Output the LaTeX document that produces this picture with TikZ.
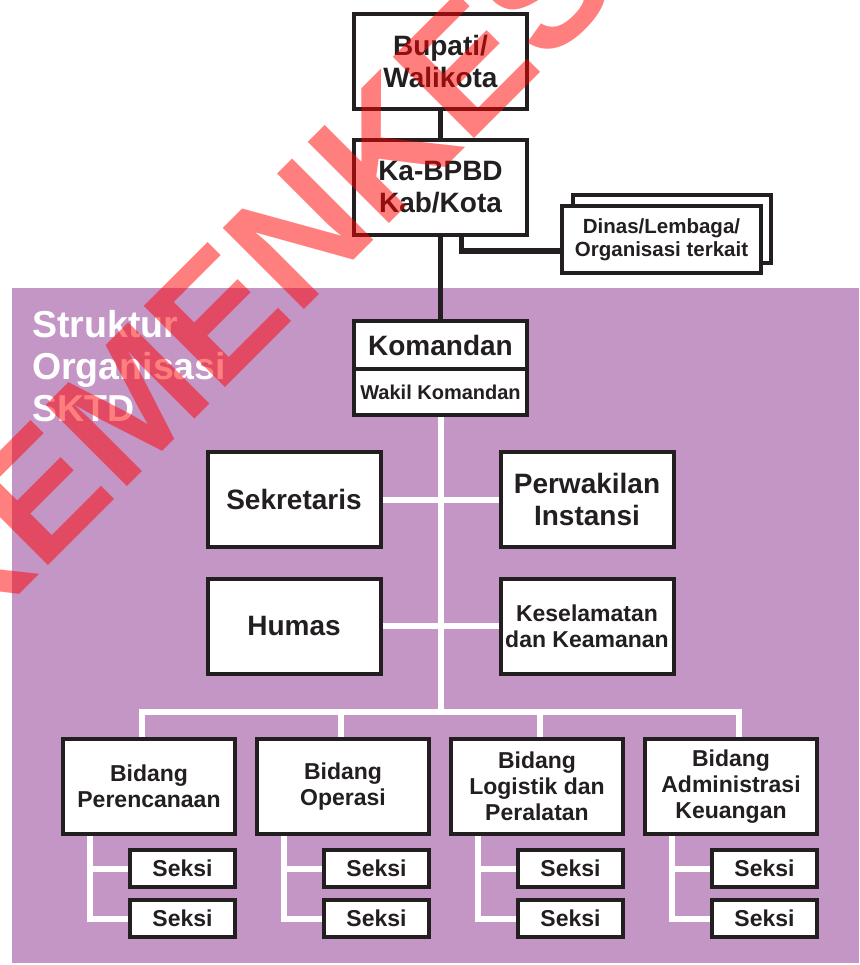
\documentclass[tikz,border=0pt]{standalone}
\usepackage{fontspec}
\setmainfont{Liberation Sans}
\usetikzlibrary{positioning}
\definecolor{ink}{HTML}{231F20}
\definecolor{sktd}{HTML}{C396C6}
\tikzstyle{box} = [draw=ink, line width=4pt, fill=white, text=ink, align=center, inner sep=0pt, font=\bfseries\fontsize{28}{32}\selectfont, minimum width=173pt, minimum height=95pt]
\tikzstyle{bidang} = [box, minimum width=172pt, font=\bfseries\fontsize{23}{26}\selectfont]
\tikzstyle{seksi} = [bidang, minimum width=105pt, minimum height=37pt]
\tikzstyle{blackline} = [draw=ink, line width=5.5pt]
\tikzstyle{whiteline} = [draw=white, line width=6pt]

\begin{document}
\begin{tikzpicture}[x=1pt, y=-1pt, node distance=125pt]

\clip (0,0) rectangle (859,965);

% Background

\fill[sktd] (12,288) rectangle (859,963);

\node[anchor=north west, inner sep=0pt, align=left, text=white, font=\bfseries\fontsize{37.5}{42}\selectfont] (judul) at (32,310) {Struktur\\Organisasi\\SKTD};

% Top

\node[box] (bupati) at (440.5,61.5) {Bupati/\\Walikota};

\node[box] (kabpbd) [below of=bupati, yshift=-1pt] {Ka-BPBD\\Kab/Kota};

\node[box, minimum width=198pt, minimum height=68pt] (dinasback) at (672,229) {};

\node[box, minimum width=199pt, minimum height=67pt, font=\bfseries\fontsize{20.5}{22.5}\selectfont] (dinas) at (661.5,239.5) {Dinas/Lembaga/\\Organisasi terkait};

\draw[blackline] (bupati) -- (kabpbd);
\draw[blackline] ([xshift=21pt]kabpbd.south) |- ([yshift=-11.5pt]dinas.west);

% Komandan

\node[box, minimum height=48pt] (komandan) [below of=kabpbd, yshift=-32.5pt] {Komandan};

\node[box, minimum height=46pt, font=\bfseries\fontsize{20}{22}\selectfont] (wakil) [below=-4pt of komandan] {Wakil Komandan};

\draw[blackline] (kabpbd) -- (komandan);

% Staff

\node[box] (sekretaris) [below of=komandan, xshift=-146.5pt, yshift=-29.5pt] {Sekretaris};

\node[box] (perwakilan) [right of=sekretaris, node distance=293pt] {Perwakilan\\Instansi};

\node[box] (humas) [below of=sekretaris, yshift=-1.5pt] {Humas};

\node[box, font=\bfseries\fontsize{23}{26}\selectfont] (keselamatan) [right of=humas, node distance=293pt] {Keselamatan\\dan Keamanan};

\coordinate (bus) at (440.5,712);

\draw[whiteline] (wakil) -- (bus);
\draw[whiteline] (sekretaris) -- (perwakilan);
\draw[whiteline] (humas) -- (keselamatan);

% Bidang

\node[bidang] (perencanaan) at (149,786.5) {Bidang\\Perencanaan};

\node[bidang] (operasi) [right of=perencanaan, node distance=194pt] {Bidang\\Operasi};

\node[bidang] (logistik) [right of=operasi, node distance=194pt] {Bidang\\Logistik dan\\Peralatan};

\node[bidang] (keuangan) [right of=logistik, node distance=194pt] {Bidang\\Administrasi\\Keuangan};

\draw[whiteline] (bus) -| ([xshift=-7pt]perencanaan.north);
\draw[whiteline] (bus) -| ([xshift=-2.5pt]operasi.north);
\draw[whiteline] (bus) -| ([xshift=3pt]logistik.north);
\draw[whiteline] (bus) -| ([xshift=8pt]keuangan.north);

% Seksi

\node[seksi] (seksiA1) [below of=perencanaan, node distance=82pt, xshift=33.5pt] {Seksi};
\node[seksi] (seksiA2) [below of=seksiA1, node distance=50pt] {Seksi};

\node[seksi] (seksiB1) [below of=operasi, node distance=82pt, xshift=33.5pt] {Seksi};
\node[seksi] (seksiB2) [below of=seksiB1, node distance=50pt] {Seksi};

\node[seksi] (seksiC1) [below of=logistik, node distance=82pt, xshift=33.5pt] {Seksi};
\node[seksi] (seksiC2) [below of=seksiC1, node distance=50pt] {Seksi};

\node[seksi] (seksiD1) [below of=keuangan, node distance=82pt, xshift=33.5pt] {Seksi};
\node[seksi] (seksiD2) [below of=seksiD1, node distance=50pt] {Seksi};

\draw[whiteline] ([xshift=28.5pt]perencanaan.south west) |- (seksiA1.west);
\draw[whiteline] ([xshift=28.5pt]perencanaan.south west) |- (seksiA2.west);
\draw[whiteline] ([xshift=28.5pt]operasi.south west) |- (seksiB1.west);
\draw[whiteline] ([xshift=28.5pt]operasi.south west) |- (seksiB2.west);
\draw[whiteline] ([xshift=28.5pt]logistik.south west) |- (seksiC1.west);
\draw[whiteline] ([xshift=28.5pt]logistik.south west) |- (seksiC2.west);
\draw[whiteline] ([xshift=28.5pt]keuangan.south west) |- (seksiD1.west);
\draw[whiteline] ([xshift=28.5pt]keuangan.south west) |- (seksiD2.west);

% Watermark

\node[rotate=45, text=red, text opacity=0.5, inner sep=0pt, font=\bfseries\fontsize{167}{167}\selectfont] (stempel) at (249,283) {KEMENKES};

\end{tikzpicture}
\end{document}
